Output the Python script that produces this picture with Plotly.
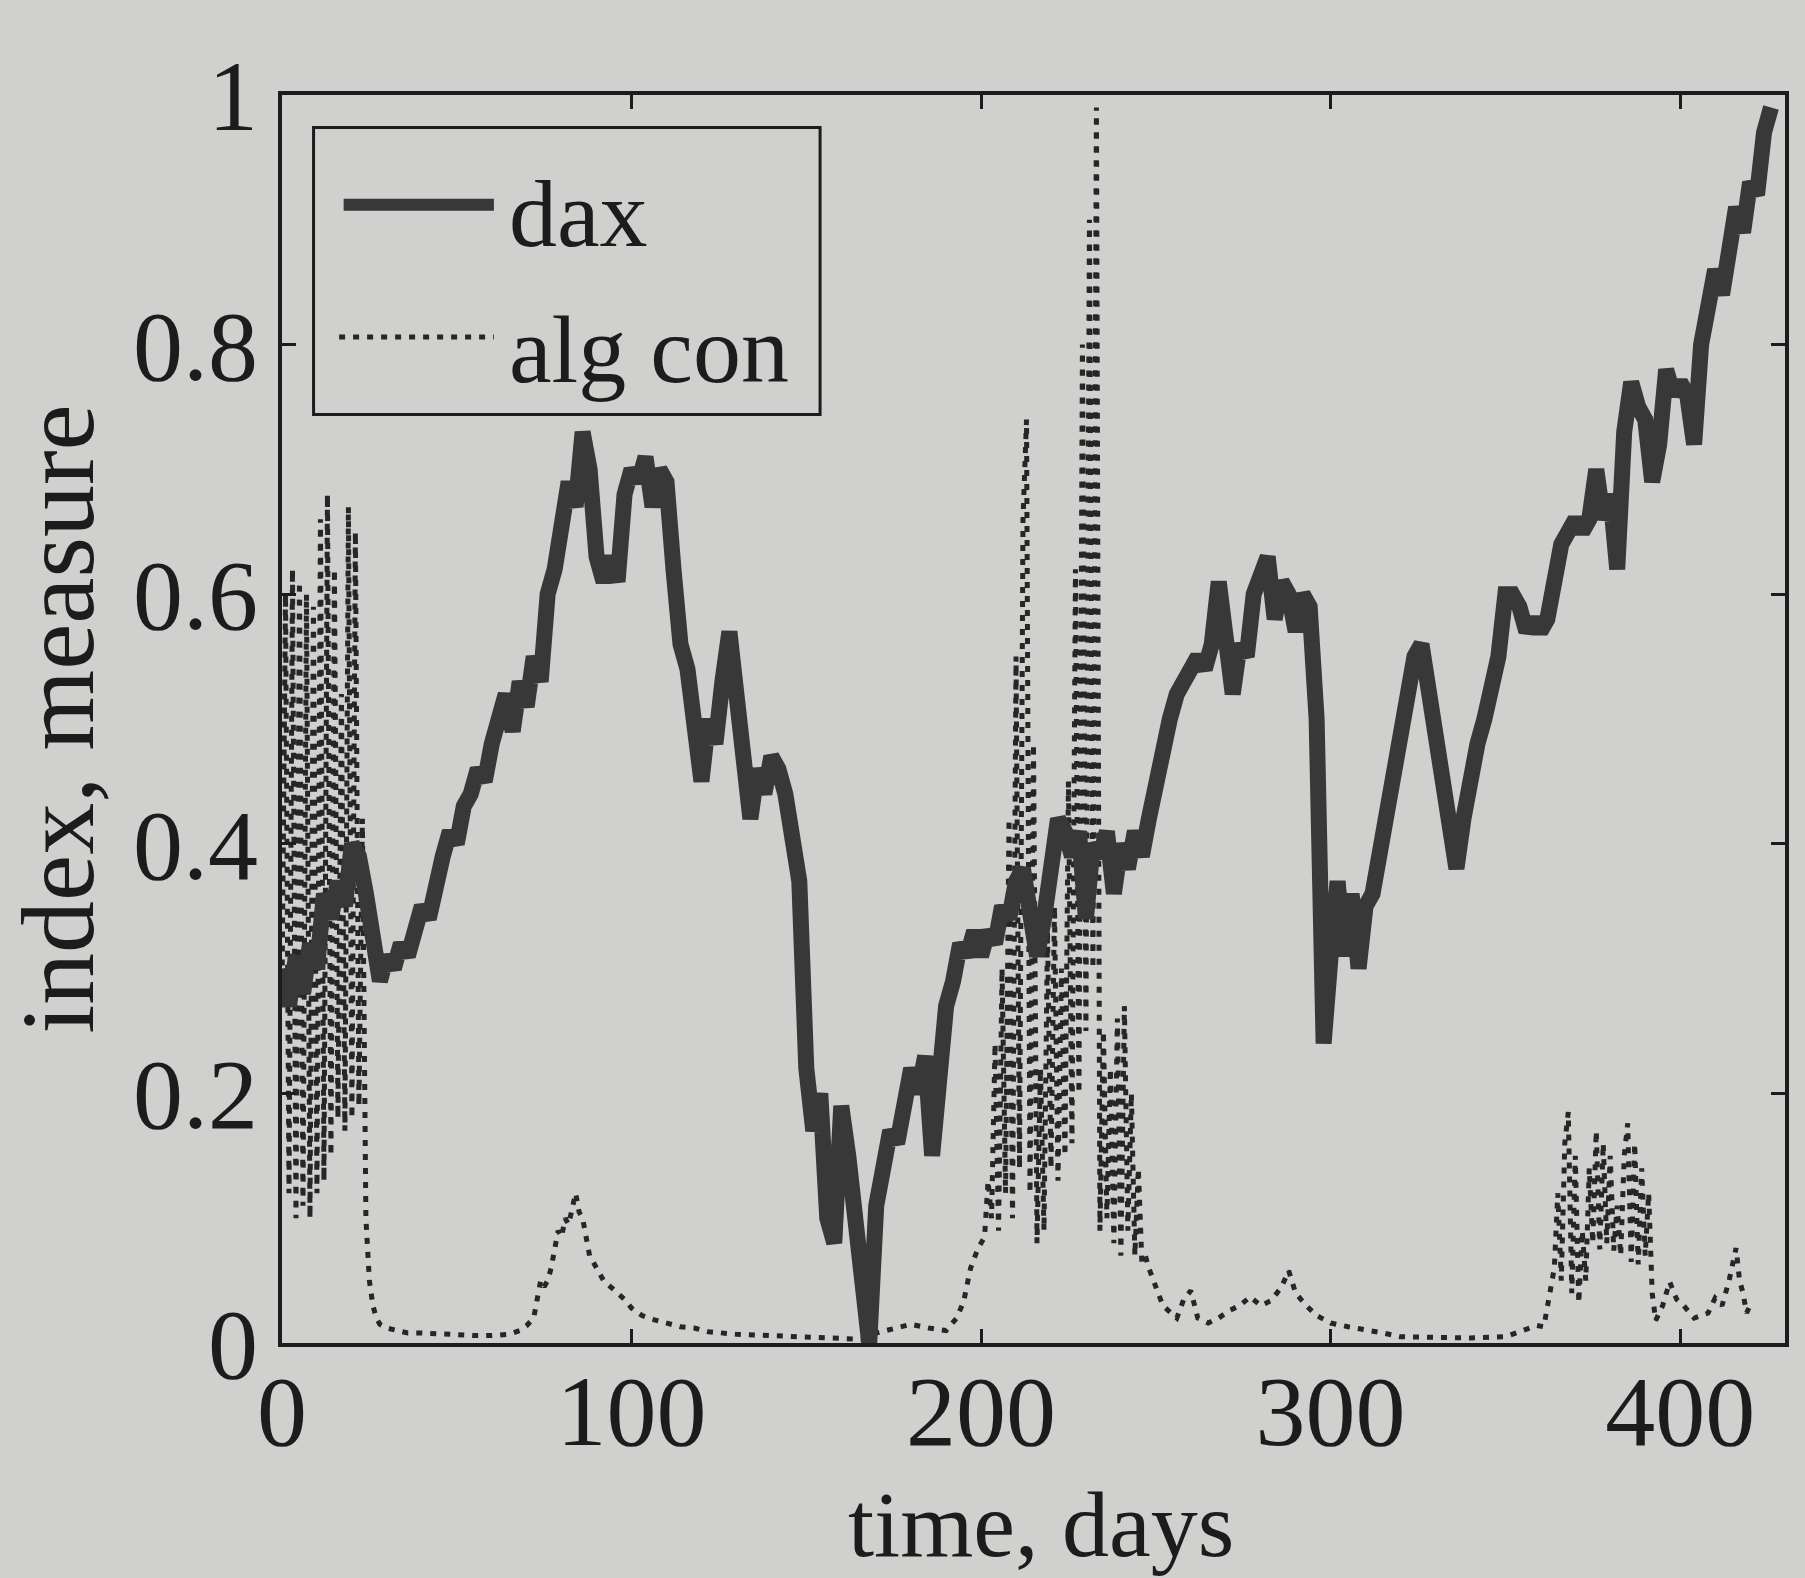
import plotly.graph_objects as go

# ---- data -----------------------------------------------------------------
# DAX index (normalised), sampled every second trading day
dax_days = list(range(0, 428, 2))
dax_values = [
    0.30, 0.27, 0.31, 0.28, 0.32, 0.30, 0.36, 0.34, 0.37, 0.35,   # 0-18
    0.40, 0.39, 0.36, 0.33, 0.29, 0.31, 0.30, 0.32, 0.31, 0.33,   # 20-38
    0.35, 0.34, 0.37, 0.39, 0.41, 0.40, 0.43, 0.44, 0.46, 0.45,   # 40-58
    0.48, 0.50, 0.52, 0.49, 0.53, 0.51, 0.55, 0.53, 0.60, 0.62,   # 60-78
    0.66, 0.69, 0.67, 0.73, 0.70, 0.63, 0.61, 0.63, 0.61, 0.68,   # 80-98
    0.70, 0.69, 0.71, 0.67, 0.70, 0.69, 0.62, 0.56, 0.54, 0.48,   # 100-118
    0.45, 0.50, 0.48, 0.53, 0.57, 0.52, 0.47, 0.42, 0.46, 0.44,   # 120-138
    0.47, 0.46, 0.44, 0.41, 0.37, 0.22, 0.17, 0.20, 0.10, 0.08,   # 140-158
    0.19, 0.15, 0.10, 0.07, 0.00, 0.11, 0.14, 0.17, 0.16, 0.19,   # 160-178
    0.22, 0.20, 0.23, 0.15, 0.22, 0.27, 0.29, 0.32, 0.31, 0.33,   # 180-198
    0.31, 0.33, 0.32, 0.35, 0.34, 0.37, 0.38, 0.35, 0.31, 0.34,   # 200-218
    0.38, 0.42, 0.41, 0.39, 0.41, 0.34, 0.40, 0.39, 0.41, 0.36,   # 220-238
    0.40, 0.38, 0.41, 0.39, 0.42, 0.45, 0.47, 0.50, 0.52, 0.53,   # 240-258
    0.54, 0.55, 0.54, 0.56, 0.61, 0.57, 0.52, 0.56, 0.55, 0.60,   # 260-278
    0.62, 0.63, 0.58, 0.61, 0.60, 0.57, 0.60, 0.59, 0.50, 0.24,   # 280-298
    0.31, 0.37, 0.31, 0.36, 0.30, 0.35, 0.36, 0.39, 0.42, 0.46,   # 300-318
    0.49, 0.52, 0.55, 0.56, 0.52, 0.50, 0.46, 0.42, 0.38, 0.42,   # 320-338
    0.46, 0.48, 0.50, 0.53, 0.55, 0.60, 0.60, 0.59, 0.57, 0.58,   # 340-358
    0.57, 0.58, 0.62, 0.64, 0.65, 0.66, 0.65, 0.66, 0.70, 0.66,   # 360-378
    0.68, 0.62, 0.73, 0.77, 0.75, 0.74, 0.69, 0.72, 0.78, 0.76,   # 380-398
    0.77, 0.76, 0.72, 0.80, 0.83, 0.86, 0.84, 0.88, 0.91, 0.89,   # 400-418
    0.93, 0.92, 0.97, 0.99,                                       # 420-426
]

# algebraic connectivity measure
alg_days = [
    0, 1, 2, 3, 4, 5, 6, 7, 8, 9, 10, 11, 12, 13, 14, 15, 16, 17, 18, 19,
    20, 21, 22, 23, 24, 25, 26, 27, 28, 30, 33, 36, 40, 45, 50, 55, 60, 65,
    68, 70, 72, 73, 74, 75, 76, 77, 78, 79, 80, 81, 82, 83, 84, 85, 86, 87,
    88, 89, 90, 92, 94, 96, 98, 100, 103, 106, 110, 114, 118, 122, 130, 140,
    150, 160, 166, 170, 175, 180, 185, 190, 193, 195, 197, 199, 201, 202,
    203, 204, 205, 206, 207, 208, 209, 210, 211, 212, 213, 214, 215, 216,
    217, 218, 219, 220, 221, 222, 223, 224, 225, 226, 227, 228, 229, 230,
    231, 232, 233, 234, 235, 236, 237, 238, 239, 240, 241, 242, 243, 244,
    245, 246, 247, 248, 250, 252, 254, 256, 258, 260, 262, 265, 268, 271,
    274, 277, 280, 283, 286, 288, 290, 293, 296, 300, 305, 310, 315, 320,
    330, 340, 350, 355, 359, 361, 362, 363, 364, 365, 366, 367, 368, 369,
    370, 371, 372, 373, 374, 375, 376, 377, 378, 379, 380, 381, 382, 383,
    384, 385, 386, 387, 388, 389, 390, 391, 392, 393, 395, 397, 399, 401,
    404, 406, 408, 410, 412, 414, 416, 417, 418, 419, 420,
]
alg_values = [
    0.28, 0.60, 0.12, 0.62, 0.10, 0.61, 0.11, 0.60, 0.10, 0.59, 0.12, 0.66,
    0.13, 0.68, 0.15, 0.62, 0.18, 0.52, 0.17, 0.67, 0.18, 0.65, 0.19, 0.42,
    0.10, 0.05, 0.03, 0.02, 0.015, 0.012, 0.010, 0.008, 0.008, 0.007, 0.006,
    0.006, 0.006, 0.007, 0.010, 0.014, 0.020, 0.035, 0.050, 0.045, 0.050,
    0.060, 0.075, 0.090, 0.085, 0.100, 0.095, 0.110, 0.120, 0.105, 0.100,
    0.085, 0.070, 0.065, 0.060, 0.050, 0.045, 0.040, 0.035, 0.028, 0.022,
    0.019, 0.016, 0.013, 0.012, 0.009, 0.007, 0.006, 0.005, 0.004, 0.003,
    0.008, 0.012, 0.015, 0.012, 0.010, 0.020, 0.033, 0.060, 0.075, 0.085,
    0.130,
    0.10, 0.24, 0.09, 0.30, 0.12, 0.42, 0.10, 0.55, 0.14, 0.66, 0.74, 0.12,
    0.48, 0.08, 0.22, 0.09, 0.33, 0.14, 0.35, 0.13, 0.30, 0.15, 0.45, 0.16,
    0.62, 0.20, 0.80, 0.25, 0.90, 0.30, 0.99, 0.09, 0.25, 0.10, 0.22, 0.08,
    0.26, 0.07, 0.27, 0.09, 0.20, 0.07, 0.14, 0.065, 0.07, 0.06, 0.045,
    0.030, 0.025, 0.020, 0.035, 0.042, 0.020, 0.016, 0.020, 0.026, 0.030,
    0.037, 0.030, 0.034, 0.045, 0.058, 0.040, 0.030, 0.022, 0.016, 0.013,
    0.011, 0.008, 0.005, 0.004, 0.004, 0.005, 0.010, 0.014, 0.013, 0.030,
    0.043, 0.060, 0.12, 0.05, 0.16, 0.185, 0.04, 0.15, 0.032, 0.09, 0.05,
    0.14, 0.08, 0.17, 0.075, 0.16, 0.08, 0.15, 0.074, 0.11, 0.07, 0.15,
    0.176, 0.065, 0.16, 0.063, 0.14, 0.07, 0.12, 0.04, 0.018, 0.030, 0.049,
    0.035, 0.030, 0.020, 0.022, 0.024, 0.036, 0.030, 0.050, 0.076, 0.050,
    0.040, 0.024, 0.030,
]

x_ticks = [0, 100, 200, 300, 400]
y_ticks = [0, 0.2, 0.4, 0.6, 0.8, 1.0]
y_tick_labels = ["0", "0.2", "0.4", "0.6", "0.8", "1"]
legend_labels = ["dax", "alg con"]
x_title = "time, days"
y_title = "index, measure"

# ---- style ----------------------------------------------------------------
BG = "#d0d0ce"
INK = "#1c1c1c"
DAX_COLOR = "#383838"
DOT_COLOR = "#262626"
DOT_DASH = "6px,8px"
FONT = "Liberation Serif"

fig = go.Figure()

fig.add_trace(go.Scatter(
    x=alg_days, y=alg_values, mode="lines", name=legend_labels[1],
    line=dict(color=DOT_COLOR, width=5, dash=DOT_DASH),
    showlegend=False,
))
fig.add_trace(go.Scatter(
    x=dax_days, y=dax_values, mode="lines", name=legend_labels[0],
    line=dict(color=DAX_COLOR, width=16),
    showlegend=False,
))

axis_common = dict(
    showline=True, linecolor=INK, linewidth=4, mirror="allticks",
    ticks="inside", ticklen=14, tickwidth=3, tickcolor=INK,
    showgrid=False, zeroline=False,
    tickfont=dict(family=FONT, size=100, color=INK),
)

fig.update_xaxes(
    range=[0, 430], tickvals=x_ticks, ticktext=[str(v) for v in x_ticks],
    ticklabelstandoff=-22,
    **axis_common,
)
fig.update_yaxes(
    range=[0, 1], tickvals=y_ticks, ticktext=y_tick_labels,
    ticklabelstandoff=0,
    title=dict(text=y_title, font=dict(family=FONT, size=104, color=INK),
               standoff=8),
    **axis_common,
)

# hand-built legend box in the upper-left corner
shapes = [
    dict(type="rect", xref="paper", yref="paper", x0=0.021, x1=0.358,
         y0=0.744, y1=0.974, line=dict(color=INK, width=3),
         fillcolor=BG, layer="above"),
    dict(type="line", xref="paper", yref="paper", x0=0.041, x1=0.141,
         y0=0.912, y1=0.912, line=dict(color=DAX_COLOR, width=12),
         layer="above"),
    dict(type="line", xref="paper", yref="paper", x0=0.038, x1=0.141,
         y0=0.806, y1=0.806, line=dict(color=DOT_COLOR, width=5,
                                       dash=DOT_DASH),
         layer="above"),
]
annotations = [
    dict(xref="paper", yref="paper", x=0.150, y=0.905, text=legend_labels[0],
         showarrow=False, xanchor="left", yanchor="middle",
         font=dict(family=FONT, size=96, color=INK)),
    dict(xref="paper", yref="paper", x=0.150, y=0.796, text=legend_labels[1],
         showarrow=False, xanchor="left", yanchor="middle",
         font=dict(family=FONT, size=96, color=INK)),
    # x-axis title, placed below the tick labels
    dict(xref="paper", yref="paper", x=0.505, y=-0.145, text=x_title,
         showarrow=False, xanchor="center", yanchor="middle",
         font=dict(family=FONT, size=94, color=INK)),
]

fig.update_layout(
    width=1805, height=1578,
    margin=dict(l=282, r=20, t=95, b=235),
    paper_bgcolor=BG, plot_bgcolor=BG,
    shapes=shapes, annotations=annotations,
    showlegend=False,
)

fig.write_html("out.html", config={"displayModeBar": False})
